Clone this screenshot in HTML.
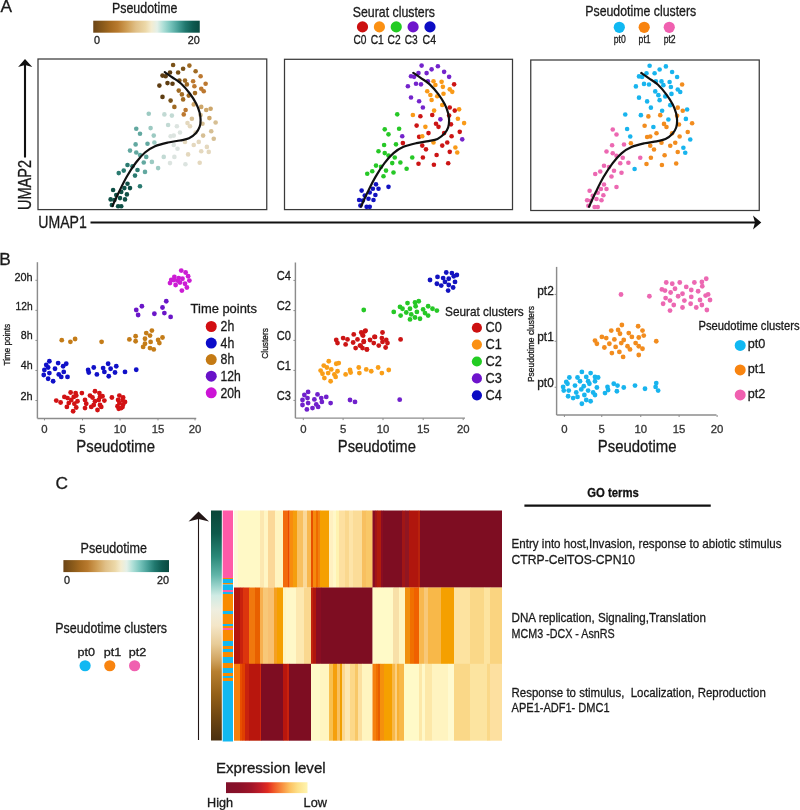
<!DOCTYPE html>
<html><head><meta charset="utf-8"><style>
html,body{margin:0;padding:0;background:#fff;width:800px;height:810px;overflow:hidden}
svg{display:block;filter:blur(0.3px)}
text{font-family:"Liberation Sans",sans-serif}
</style></head><body>
<svg width="800" height="810" viewBox="0 0 800 810">
<rect width="800" height="810" fill="#fff"/>
<defs>
<linearGradient id="gpt1" x1="0" x2="1" y1="0" y2="0"><stop offset="0" stop-color="#6b4416"/><stop offset="0.09" stop-color="#8a5a1a"/><stop offset="0.16" stop-color="#a56a20"/><stop offset="0.23" stop-color="#b87a2e"/><stop offset="0.32" stop-color="#d0a058"/><stop offset="0.4" stop-color="#e0c088"/><stop offset="0.49" stop-color="#ecd8a8"/><stop offset="0.545" stop-color="#f4ecd0"/><stop offset="0.6" stop-color="#e4f0e8"/><stop offset="0.655" stop-color="#b0e0d8"/><stop offset="0.725" stop-color="#78c4bc"/><stop offset="0.795" stop-color="#48a098"/><stop offset="0.865" stop-color="#20786e"/><stop offset="0.935" stop-color="#0e5a50"/><stop offset="1" stop-color="#0a4a40"/></linearGradient>
<linearGradient id="gpt2" x1="0" x2="1" y1="0" y2="0"><stop offset="0" stop-color="#6b4416"/><stop offset="0.09" stop-color="#8a5a1a"/><stop offset="0.16" stop-color="#a56a20"/><stop offset="0.23" stop-color="#b87a2e"/><stop offset="0.32" stop-color="#d0a058"/><stop offset="0.4" stop-color="#e0c088"/><stop offset="0.49" stop-color="#ecd8a8"/><stop offset="0.545" stop-color="#f4ecd0"/><stop offset="0.6" stop-color="#e4f0e8"/><stop offset="0.655" stop-color="#b0e0d8"/><stop offset="0.725" stop-color="#78c4bc"/><stop offset="0.795" stop-color="#48a098"/><stop offset="0.865" stop-color="#20786e"/><stop offset="0.935" stop-color="#0e5a50"/><stop offset="1" stop-color="#0a4a40"/></linearGradient>
<linearGradient id="gexp" x1="0" x2="1" y1="0" y2="0"><stop offset="0" stop-color="#80102a"/><stop offset="0.16" stop-color="#8a1028"/><stop offset="0.31" stop-color="#a01428"/><stop offset="0.42" stop-color="#c01c28"/><stop offset="0.51" stop-color="#e02a20"/><stop offset="0.59" stop-color="#f05a28"/><stop offset="0.69" stop-color="#f89040"/><stop offset="0.78" stop-color="#fcc060"/><stop offset="0.88" stop-color="#fde088"/><stop offset="1" stop-color="#fff4b0"/></linearGradient>
<linearGradient id="gpc" x1="0" x2="0" y1="0" y2="1"><stop offset="0" stop-color="#0a4638"/><stop offset="0.1" stop-color="#0e5a4c"/><stop offset="0.2" stop-color="#2a8878"/><stop offset="0.28" stop-color="#60b4a8"/><stop offset="0.33" stop-color="#9cd4cc"/><stop offset="0.37" stop-color="#d0ebe4"/><stop offset="0.43" stop-color="#eeeee0"/><stop offset="0.5" stop-color="#f4e6c8"/><stop offset="0.58" stop-color="#e8cc98"/><stop offset="0.65" stop-color="#d0a460"/><stop offset="0.7" stop-color="#b88030"/><stop offset="0.8" stop-color="#946018"/><stop offset="0.9" stop-color="#6e4612"/><stop offset="1" stop-color="#4a3010"/></linearGradient>
<marker id="ah" markerWidth="10" markerHeight="10" refX="5" refY="5" orient="auto"></marker>
<filter id="hblur" x="-2%" y="-2%" width="104%" height="104%"><feGaussianBlur stdDeviation="0.7 0.4"/></filter>
</defs>
<rect x="93.25" y="20.7" width="106.5" height="12" fill="url(#gpt1)"/>
<text x="0.40" y="12.40" font-size="17.28" fill="#1a1a1a" stroke="#1a1a1a" stroke-width="0.3">A</text>
<text x="112.00" y="13.10" font-size="14.80" fill="#1a1a1a" textLength="65.5" lengthAdjust="spacingAndGlyphs" stroke="#1a1a1a" stroke-width="0.3">Pseudotime</text>
<text x="94.00" y="43.60" font-size="10.80" fill="#1a1a1a" stroke="#1a1a1a" stroke-width="0.3">0</text>
<text x="199.75" y="43.60" font-size="10.80" fill="#1a1a1a" text-anchor="end" stroke="#1a1a1a" stroke-width="0.3">20</text>
<text x="352.75" y="16.90" font-size="14.80" fill="#1a1a1a" textLength="82.25" lengthAdjust="spacingAndGlyphs" stroke="#1a1a1a" stroke-width="0.3">Seurat clusters</text>
<circle cx="362.50" cy="26.90" r="5.6" fill="#cc1010"/>
<text x="353.50" y="44.40" font-size="11.88" fill="#1a1a1a" textLength="13" lengthAdjust="spacingAndGlyphs" stroke="#1a1a1a" stroke-width="0.3">C0</text>
<circle cx="379.40" cy="26.90" r="5.6" fill="#fb9012"/>
<text x="370.70" y="44.40" font-size="11.88" fill="#1a1a1a" textLength="13.1" lengthAdjust="spacingAndGlyphs" stroke="#1a1a1a" stroke-width="0.3">C1</text>
<circle cx="396.25" cy="26.90" r="5.6" fill="#22cc22"/>
<text x="387.55" y="44.40" font-size="11.88" fill="#1a1a1a" textLength="13.1" lengthAdjust="spacingAndGlyphs" stroke="#1a1a1a" stroke-width="0.3">C2</text>
<circle cx="413.10" cy="26.90" r="5.6" fill="#6e14cc"/>
<text x="404.70" y="44.40" font-size="11.88" fill="#1a1a1a" textLength="13" lengthAdjust="spacingAndGlyphs" stroke="#1a1a1a" stroke-width="0.3">C3</text>
<circle cx="430.00" cy="26.90" r="5.6" fill="#0c0cc4"/>
<text x="422.60" y="44.40" font-size="11.88" fill="#1a1a1a" textLength="13.5" lengthAdjust="spacingAndGlyphs" stroke="#1a1a1a" stroke-width="0.3">C4</text>
<text x="585.25" y="16.20" font-size="14.04" fill="#1a1a1a" textLength="111" lengthAdjust="spacingAndGlyphs" stroke="#1a1a1a" stroke-width="0.3">Pseudotime clusters</text>
<circle cx="619.30" cy="27.30" r="5.6" fill="#10b8f2"/>
<text x="613.70" y="42.75" font-size="11.12" fill="#1a1a1a" textLength="12" lengthAdjust="spacingAndGlyphs" stroke="#1a1a1a" stroke-width="0.3">pt0</text>
<circle cx="644.20" cy="27.30" r="5.6" fill="#f88410"/>
<text x="638.60" y="42.75" font-size="11.12" fill="#1a1a1a" textLength="12" lengthAdjust="spacingAndGlyphs" stroke="#1a1a1a" stroke-width="0.3">pt1</text>
<circle cx="669.25" cy="27.30" r="5.6" fill="#f060b0"/>
<text x="663.65" y="42.75" font-size="11.12" fill="#1a1a1a" textLength="12" lengthAdjust="spacingAndGlyphs" stroke="#1a1a1a" stroke-width="0.3">pt2</text>
<rect x="38" y="59" width="228.75" height="150.60" fill="none" stroke="#3a3a3a" stroke-width="1.25"/>
<rect x="284.5" y="59.3" width="228.00" height="150.30" fill="none" stroke="#3a3a3a" stroke-width="1.25"/>
<rect x="530.75" y="60" width="228.50" height="150.50" fill="none" stroke="#3a3a3a" stroke-width="1.25"/>
<circle cx="173.12" cy="65.00" r="2.3" fill="#7a5219"/>
<circle cx="183.12" cy="68.75" r="2.3" fill="#7a5219"/>
<circle cx="189.38" cy="65.62" r="2.3" fill="#a06a22"/>
<circle cx="178.12" cy="72.50" r="2.3" fill="#7a5219"/>
<circle cx="170.00" cy="72.50" r="2.3" fill="#5e3d12"/>
<circle cx="162.50" cy="75.62" r="2.3" fill="#5e3d12"/>
<circle cx="165.62" cy="76.25" r="2.3" fill="#5e3d12"/>
<circle cx="195.62" cy="71.25" r="2.3" fill="#a06a22"/>
<circle cx="200.62" cy="76.25" r="2.3" fill="#bc7830"/>
<circle cx="159.38" cy="85.62" r="2.3" fill="#5e3d12"/>
<circle cx="167.50" cy="83.12" r="2.3" fill="#5e3d12"/>
<circle cx="172.50" cy="83.75" r="2.3" fill="#5e3d12"/>
<circle cx="179.38" cy="80.62" r="2.3" fill="#7a5219"/>
<circle cx="185.00" cy="80.62" r="2.3" fill="#a06a22"/>
<circle cx="186.88" cy="84.38" r="2.3" fill="#a06a22"/>
<circle cx="193.12" cy="81.25" r="2.3" fill="#bc7830"/>
<circle cx="194.38" cy="86.25" r="2.3" fill="#bc7830"/>
<circle cx="205.62" cy="83.75" r="2.3" fill="#bc7830"/>
<circle cx="201.25" cy="88.75" r="2.3" fill="#bc7830"/>
<circle cx="203.75" cy="91.25" r="2.3" fill="#bc7830"/>
<circle cx="178.75" cy="90.62" r="2.3" fill="#a06a22"/>
<circle cx="181.88" cy="94.38" r="2.3" fill="#a06a22"/>
<circle cx="188.75" cy="95.62" r="2.3" fill="#a06a22"/>
<circle cx="195.00" cy="93.12" r="2.3" fill="#a06a22"/>
<circle cx="162.50" cy="96.88" r="2.3" fill="#5e3d12"/>
<circle cx="170.62" cy="100.62" r="2.3" fill="#7a5219"/>
<circle cx="183.12" cy="99.38" r="2.3" fill="#a06a22"/>
<circle cx="174.38" cy="106.88" r="2.3" fill="#a06a22"/>
<circle cx="185.62" cy="110.00" r="2.3" fill="#bc7830"/>
<circle cx="183.75" cy="114.38" r="2.3" fill="#bc7830"/>
<circle cx="193.75" cy="104.38" r="2.3" fill="#cda66a"/>
<circle cx="201.25" cy="106.88" r="2.3" fill="#cda66a"/>
<circle cx="206.25" cy="110.00" r="2.3" fill="#cda66a"/>
<circle cx="210.62" cy="108.75" r="2.3" fill="#cda66a"/>
<circle cx="191.88" cy="118.75" r="2.3" fill="#d6bf94"/>
<circle cx="209.38" cy="118.12" r="2.3" fill="#cda66a"/>
<circle cx="215.62" cy="122.50" r="2.3" fill="#d6bf94"/>
<circle cx="187.50" cy="123.12" r="2.3" fill="#e4d8be"/>
<circle cx="190.00" cy="126.25" r="2.3" fill="#e4d8be"/>
<circle cx="202.50" cy="123.75" r="2.3" fill="#d6bf94"/>
<circle cx="211.25" cy="131.25" r="2.3" fill="#d6bf94"/>
<circle cx="203.12" cy="135.62" r="2.3" fill="#d6bf94"/>
<circle cx="213.75" cy="138.75" r="2.3" fill="#d6bf94"/>
<circle cx="198.75" cy="141.88" r="2.3" fill="#e4d8be"/>
<circle cx="193.75" cy="145.00" r="2.3" fill="#e4d8be"/>
<circle cx="206.88" cy="146.88" r="2.3" fill="#e4d8be"/>
<circle cx="201.25" cy="151.25" r="2.3" fill="#e4d8be"/>
<circle cx="208.75" cy="151.88" r="2.3" fill="#e4d8be"/>
<circle cx="188.12" cy="154.38" r="2.3" fill="#e4d8be"/>
<circle cx="173.75" cy="145.00" r="2.3" fill="#dce4e0"/>
<circle cx="177.50" cy="148.75" r="2.3" fill="#dce4e0"/>
<circle cx="170.62" cy="136.25" r="2.3" fill="#dce4e0"/>
<circle cx="173.75" cy="135.62" r="2.3" fill="#dce4e0"/>
<circle cx="168.12" cy="125.00" r="2.3" fill="#c2dad4"/>
<circle cx="176.88" cy="126.25" r="2.3" fill="#dce4e0"/>
<circle cx="180.00" cy="132.50" r="2.3" fill="#dce4e0"/>
<circle cx="164.38" cy="114.38" r="2.3" fill="#c2dad4"/>
<circle cx="171.88" cy="115.62" r="2.3" fill="#c2dad4"/>
<circle cx="148.75" cy="113.75" r="2.3" fill="#9ccac2"/>
<circle cx="150.62" cy="128.12" r="2.3" fill="#9ccac2"/>
<circle cx="153.75" cy="135.62" r="2.3" fill="#9ccac2"/>
<circle cx="147.50" cy="143.75" r="2.3" fill="#62a8a0"/>
<circle cx="154.38" cy="142.50" r="2.3" fill="#9ccac2"/>
<circle cx="140.00" cy="133.75" r="2.3" fill="#62a8a0"/>
<circle cx="146.25" cy="156.88" r="2.3" fill="#62a8a0"/>
<circle cx="163.75" cy="156.88" r="2.3" fill="#c2dad4"/>
<circle cx="174.38" cy="156.88" r="2.3" fill="#dce4e0"/>
<circle cx="200.62" cy="115.00" r="2.3" fill="#d6bf94"/>
<circle cx="185.00" cy="141.88" r="2.3" fill="#e4d8be"/>
<circle cx="195.62" cy="132.50" r="2.3" fill="#e4d8be"/>
<circle cx="199.70" cy="162.70" r="2.3" fill="#e4d8be"/>
<circle cx="185.40" cy="164.20" r="2.3" fill="#dce4e0"/>
<circle cx="136.25" cy="128.75" r="2.3" fill="#62a8a0"/>
<circle cx="135.62" cy="144.38" r="2.3" fill="#62a8a0"/>
<circle cx="130.00" cy="150.62" r="2.3" fill="#62a8a0"/>
<circle cx="136.25" cy="152.50" r="2.3" fill="#62a8a0"/>
<circle cx="140.00" cy="155.00" r="2.3" fill="#62a8a0"/>
<circle cx="151.88" cy="161.88" r="2.3" fill="#9ccac2"/>
<circle cx="143.75" cy="162.50" r="2.3" fill="#62a8a0"/>
<circle cx="158.12" cy="168.12" r="2.3" fill="#9ccac2"/>
<circle cx="170.00" cy="163.12" r="2.3" fill="#dce4e0"/>
<circle cx="127.50" cy="165.00" r="2.3" fill="#2a7a70"/>
<circle cx="132.50" cy="166.25" r="2.3" fill="#2a7a70"/>
<circle cx="123.75" cy="170.62" r="2.3" fill="#2a7a70"/>
<circle cx="118.75" cy="173.12" r="2.3" fill="#2a7a70"/>
<circle cx="137.50" cy="170.00" r="2.3" fill="#2a7a70"/>
<circle cx="145.00" cy="171.88" r="2.3" fill="#62a8a0"/>
<circle cx="135.00" cy="175.62" r="2.3" fill="#2a7a70"/>
<circle cx="140.00" cy="186.25" r="2.3" fill="#2a7a70"/>
<circle cx="127.50" cy="183.75" r="2.3" fill="#0f5046"/>
<circle cx="124.38" cy="188.12" r="2.3" fill="#0f5046"/>
<circle cx="130.00" cy="188.12" r="2.3" fill="#0f5046"/>
<circle cx="113.12" cy="190.00" r="2.3" fill="#0f5046"/>
<circle cx="121.25" cy="191.88" r="2.3" fill="#0f5046"/>
<circle cx="126.88" cy="194.38" r="2.3" fill="#0f5046"/>
<circle cx="116.25" cy="195.00" r="2.3" fill="#0f5046"/>
<circle cx="110.62" cy="199.38" r="2.3" fill="#0f5046"/>
<circle cx="114.38" cy="200.00" r="2.3" fill="#0f5046"/>
<circle cx="120.00" cy="198.12" r="2.3" fill="#0f5046"/>
<circle cx="125.00" cy="199.38" r="2.3" fill="#0f5046"/>
<circle cx="111.88" cy="205.00" r="2.3" fill="#0f5046"/>
<circle cx="118.12" cy="206.25" r="2.3" fill="#0f5046"/>
<circle cx="121.25" cy="206.25" r="2.3" fill="#0f5046"/>
<path d="M164.75,72.20 C166.04,73.08 169.75,75.58 172.50,77.50 C175.25,79.42 178.33,81.04 181.25,83.75 C184.17,86.46 187.50,90.42 190.00,93.75 C192.50,97.08 194.65,100.62 196.25,103.75 C197.85,106.88 198.88,109.79 199.60,112.50 C200.32,115.21 200.58,117.63 200.60,120.00 C200.62,122.37 200.47,124.53 199.70,126.70 C198.93,128.87 197.78,131.07 196.00,133.00 C194.22,134.93 191.67,137.05 189.00,138.30 C186.33,139.55 183.50,139.80 180.00,140.50 C176.50,141.20 172.17,141.54 168.00,142.50 C163.83,143.46 158.83,144.58 155.00,146.25 C151.17,147.92 148.17,149.79 145.00,152.50 C141.83,155.21 139.00,158.54 136.00,162.50 C133.00,166.46 129.78,171.46 127.00,176.25 C124.22,181.04 121.72,186.29 119.30,191.25 C116.88,196.21 113.63,203.54 112.50,206.00" fill="none" stroke="#111" stroke-width="2.2" stroke-linecap="round"/>
<circle cx="421.62" cy="65.60" r="2.3" fill="#7424cc"/>
<circle cx="431.62" cy="69.35" r="2.3" fill="#7424cc"/>
<circle cx="437.88" cy="66.22" r="2.3" fill="#7424cc"/>
<circle cx="426.62" cy="73.10" r="2.3" fill="#7424cc"/>
<circle cx="418.50" cy="73.10" r="2.3" fill="#7424cc"/>
<circle cx="411.00" cy="76.22" r="2.3" fill="#7424cc"/>
<circle cx="414.12" cy="76.85" r="2.3" fill="#7424cc"/>
<circle cx="444.12" cy="71.85" r="2.3" fill="#7424cc"/>
<circle cx="449.12" cy="76.85" r="2.3" fill="#7424cc"/>
<circle cx="407.88" cy="86.22" r="2.3" fill="#7424cc"/>
<circle cx="416.00" cy="83.72" r="2.3" fill="#7424cc"/>
<circle cx="421.00" cy="84.35" r="2.3" fill="#7424cc"/>
<circle cx="427.88" cy="81.22" r="2.3" fill="#7424cc"/>
<circle cx="433.50" cy="81.22" r="2.3" fill="#f99a18"/>
<circle cx="435.38" cy="84.97" r="2.3" fill="#f99a18"/>
<circle cx="441.62" cy="81.85" r="2.3" fill="#f99a18"/>
<circle cx="442.88" cy="86.85" r="2.3" fill="#f99a18"/>
<circle cx="454.12" cy="84.35" r="2.3" fill="#cc1414"/>
<circle cx="449.75" cy="89.35" r="2.3" fill="#f99a18"/>
<circle cx="452.25" cy="91.85" r="2.3" fill="#f99a18"/>
<circle cx="427.25" cy="91.22" r="2.3" fill="#f99a18"/>
<circle cx="430.38" cy="94.97" r="2.3" fill="#f99a18"/>
<circle cx="437.25" cy="96.22" r="2.3" fill="#f99a18"/>
<circle cx="443.50" cy="93.72" r="2.3" fill="#f99a18"/>
<circle cx="411.00" cy="97.47" r="2.3" fill="#7424cc"/>
<circle cx="419.12" cy="101.22" r="2.3" fill="#7424cc"/>
<circle cx="431.62" cy="99.97" r="2.3" fill="#f99a18"/>
<circle cx="422.88" cy="107.47" r="2.3" fill="#7424cc"/>
<circle cx="434.12" cy="110.60" r="2.3" fill="#f99a18"/>
<circle cx="432.25" cy="114.97" r="2.3" fill="#cc1414"/>
<circle cx="442.25" cy="104.97" r="2.3" fill="#f99a18"/>
<circle cx="449.75" cy="107.47" r="2.3" fill="#cc1414"/>
<circle cx="454.75" cy="110.60" r="2.3" fill="#cc1414"/>
<circle cx="459.12" cy="109.35" r="2.3" fill="#f99a18"/>
<circle cx="440.38" cy="119.35" r="2.3" fill="#7424cc"/>
<circle cx="457.88" cy="118.72" r="2.3" fill="#f99a18"/>
<circle cx="464.12" cy="123.10" r="2.3" fill="#f99a18"/>
<circle cx="436.00" cy="123.72" r="2.3" fill="#cc1414"/>
<circle cx="438.50" cy="126.85" r="2.3" fill="#cc1414"/>
<circle cx="451.00" cy="124.35" r="2.3" fill="#cc1414"/>
<circle cx="459.75" cy="131.85" r="2.3" fill="#cc1414"/>
<circle cx="451.62" cy="136.22" r="2.3" fill="#cc1414"/>
<circle cx="462.25" cy="139.35" r="2.3" fill="#7424cc"/>
<circle cx="447.25" cy="142.47" r="2.3" fill="#cc1414"/>
<circle cx="442.25" cy="145.60" r="2.3" fill="#cc1414"/>
<circle cx="455.38" cy="147.47" r="2.3" fill="#f99a18"/>
<circle cx="449.75" cy="151.85" r="2.3" fill="#cc1414"/>
<circle cx="457.25" cy="152.47" r="2.3" fill="#f99a18"/>
<circle cx="436.62" cy="154.97" r="2.3" fill="#cc1414"/>
<circle cx="422.25" cy="145.60" r="2.3" fill="#cc1414"/>
<circle cx="426.00" cy="149.35" r="2.3" fill="#cc1414"/>
<circle cx="419.12" cy="136.85" r="2.3" fill="#cc1414"/>
<circle cx="422.25" cy="136.22" r="2.3" fill="#f99a18"/>
<circle cx="416.62" cy="125.60" r="2.3" fill="#cc1414"/>
<circle cx="425.38" cy="126.85" r="2.3" fill="#f99a18"/>
<circle cx="428.50" cy="133.10" r="2.3" fill="#cc1414"/>
<circle cx="412.88" cy="114.97" r="2.3" fill="#f99a18"/>
<circle cx="420.38" cy="116.22" r="2.3" fill="#cc1414"/>
<circle cx="397.25" cy="114.35" r="2.3" fill="#26c826"/>
<circle cx="399.12" cy="128.72" r="2.3" fill="#26c826"/>
<circle cx="402.25" cy="136.22" r="2.3" fill="#7424cc"/>
<circle cx="396.00" cy="144.35" r="2.3" fill="#26c826"/>
<circle cx="402.88" cy="143.10" r="2.3" fill="#cc1414"/>
<circle cx="388.50" cy="134.35" r="2.3" fill="#26c826"/>
<circle cx="394.75" cy="157.47" r="2.3" fill="#26c826"/>
<circle cx="412.25" cy="157.47" r="2.3" fill="#26c826"/>
<circle cx="422.88" cy="157.47" r="2.3" fill="#cc1414"/>
<circle cx="449.12" cy="115.60" r="2.3" fill="#cc1414"/>
<circle cx="433.50" cy="142.47" r="2.3" fill="#f99a18"/>
<circle cx="444.12" cy="133.10" r="2.3" fill="#cc1414"/>
<circle cx="448.20" cy="163.30" r="2.3" fill="#cc1414"/>
<circle cx="433.90" cy="164.80" r="2.3" fill="#cc1414"/>
<circle cx="384.75" cy="129.35" r="2.3" fill="#26c826"/>
<circle cx="384.12" cy="144.97" r="2.3" fill="#26c826"/>
<circle cx="378.50" cy="151.22" r="2.3" fill="#26c826"/>
<circle cx="384.75" cy="153.10" r="2.3" fill="#26c826"/>
<circle cx="388.50" cy="155.60" r="2.3" fill="#26c826"/>
<circle cx="400.38" cy="162.47" r="2.3" fill="#26c826"/>
<circle cx="392.25" cy="163.10" r="2.3" fill="#26c826"/>
<circle cx="406.62" cy="168.72" r="2.3" fill="#26c826"/>
<circle cx="418.50" cy="163.72" r="2.3" fill="#cc1414"/>
<circle cx="376.00" cy="165.60" r="2.3" fill="#26c826"/>
<circle cx="381.00" cy="166.85" r="2.3" fill="#26c826"/>
<circle cx="372.25" cy="171.22" r="2.3" fill="#26c826"/>
<circle cx="367.25" cy="173.72" r="2.3" fill="#26c826"/>
<circle cx="386.00" cy="170.60" r="2.3" fill="#26c826"/>
<circle cx="393.50" cy="172.47" r="2.3" fill="#26c826"/>
<circle cx="383.50" cy="176.22" r="2.3" fill="#26c826"/>
<circle cx="388.50" cy="186.85" r="2.3" fill="#1212c0"/>
<circle cx="376.00" cy="184.35" r="2.3" fill="#1212c0"/>
<circle cx="372.88" cy="188.72" r="2.3" fill="#1212c0"/>
<circle cx="378.50" cy="188.72" r="2.3" fill="#1212c0"/>
<circle cx="361.62" cy="190.60" r="2.3" fill="#1212c0"/>
<circle cx="369.75" cy="192.47" r="2.3" fill="#1212c0"/>
<circle cx="375.38" cy="194.97" r="2.3" fill="#1212c0"/>
<circle cx="364.75" cy="195.60" r="2.3" fill="#1212c0"/>
<circle cx="359.12" cy="199.97" r="2.3" fill="#1212c0"/>
<circle cx="362.88" cy="200.60" r="2.3" fill="#1212c0"/>
<circle cx="368.50" cy="198.72" r="2.3" fill="#1212c0"/>
<circle cx="373.50" cy="199.97" r="2.3" fill="#1212c0"/>
<circle cx="360.38" cy="205.60" r="2.3" fill="#1212c0"/>
<circle cx="366.62" cy="206.85" r="2.3" fill="#1212c0"/>
<circle cx="369.75" cy="206.85" r="2.3" fill="#1212c0"/>
<path d="M413.25,72.80 C414.54,73.68 418.25,76.17 421.00,78.10 C423.75,80.02 426.83,81.64 429.75,84.35 C432.67,87.06 436.00,91.02 438.50,94.35 C441.00,97.68 443.15,101.22 444.75,104.35 C446.35,107.47 447.38,110.39 448.10,113.10 C448.83,115.81 449.08,118.23 449.10,120.60 C449.12,122.97 448.97,125.13 448.20,127.30 C447.43,129.47 446.28,131.67 444.50,133.60 C442.72,135.53 440.17,137.65 437.50,138.90 C434.83,140.15 432.00,140.40 428.50,141.10 C425.00,141.80 420.67,142.14 416.50,143.10 C412.33,144.06 407.33,145.18 403.50,146.85 C399.67,148.52 396.67,150.39 393.50,153.10 C390.33,155.81 387.50,159.14 384.50,163.10 C381.50,167.06 378.28,172.06 375.50,176.85 C372.72,181.64 370.22,186.89 367.80,191.85 C365.38,196.81 362.13,204.14 361.00,206.60" fill="none" stroke="#111" stroke-width="2.2" stroke-linecap="round"/>
<circle cx="649.62" cy="65.80" r="2.3" fill="#18b4ee"/>
<circle cx="659.62" cy="69.55" r="2.3" fill="#18b4ee"/>
<circle cx="665.88" cy="66.42" r="2.3" fill="#18b4ee"/>
<circle cx="654.62" cy="73.30" r="2.3" fill="#18b4ee"/>
<circle cx="646.50" cy="73.30" r="2.3" fill="#18b4ee"/>
<circle cx="639.00" cy="76.42" r="2.3" fill="#18b4ee"/>
<circle cx="642.12" cy="77.05" r="2.3" fill="#18b4ee"/>
<circle cx="672.12" cy="72.05" r="2.3" fill="#18b4ee"/>
<circle cx="677.12" cy="77.05" r="2.3" fill="#18b4ee"/>
<circle cx="635.88" cy="86.42" r="2.3" fill="#18b4ee"/>
<circle cx="644.00" cy="83.92" r="2.3" fill="#18b4ee"/>
<circle cx="649.00" cy="84.55" r="2.3" fill="#18b4ee"/>
<circle cx="655.88" cy="81.42" r="2.3" fill="#18b4ee"/>
<circle cx="661.50" cy="81.42" r="2.3" fill="#18b4ee"/>
<circle cx="663.38" cy="85.17" r="2.3" fill="#18b4ee"/>
<circle cx="669.62" cy="82.05" r="2.3" fill="#18b4ee"/>
<circle cx="670.88" cy="87.05" r="2.3" fill="#18b4ee"/>
<circle cx="682.12" cy="84.55" r="2.3" fill="#f28c1e"/>
<circle cx="677.75" cy="89.55" r="2.3" fill="#18b4ee"/>
<circle cx="680.25" cy="92.05" r="2.3" fill="#18b4ee"/>
<circle cx="655.25" cy="91.42" r="2.3" fill="#18b4ee"/>
<circle cx="658.38" cy="95.17" r="2.3" fill="#18b4ee"/>
<circle cx="665.25" cy="96.42" r="2.3" fill="#18b4ee"/>
<circle cx="671.50" cy="93.92" r="2.3" fill="#18b4ee"/>
<circle cx="639.00" cy="97.67" r="2.3" fill="#18b4ee"/>
<circle cx="647.12" cy="101.42" r="2.3" fill="#18b4ee"/>
<circle cx="659.62" cy="100.17" r="2.3" fill="#18b4ee"/>
<circle cx="650.88" cy="107.67" r="2.3" fill="#18b4ee"/>
<circle cx="662.12" cy="110.80" r="2.3" fill="#18b4ee"/>
<circle cx="660.25" cy="115.17" r="2.3" fill="#f28c1e"/>
<circle cx="670.25" cy="105.17" r="2.3" fill="#18b4ee"/>
<circle cx="677.75" cy="107.67" r="2.3" fill="#f28c1e"/>
<circle cx="682.75" cy="110.80" r="2.3" fill="#f28c1e"/>
<circle cx="687.12" cy="109.55" r="2.3" fill="#18b4ee"/>
<circle cx="668.38" cy="119.55" r="2.3" fill="#18b4ee"/>
<circle cx="685.88" cy="118.92" r="2.3" fill="#18b4ee"/>
<circle cx="692.12" cy="123.30" r="2.3" fill="#f28c1e"/>
<circle cx="664.00" cy="123.92" r="2.3" fill="#f28c1e"/>
<circle cx="666.50" cy="127.05" r="2.3" fill="#f28c1e"/>
<circle cx="679.00" cy="124.55" r="2.3" fill="#f28c1e"/>
<circle cx="687.75" cy="132.05" r="2.3" fill="#f28c1e"/>
<circle cx="679.62" cy="136.43" r="2.3" fill="#f28c1e"/>
<circle cx="690.25" cy="139.55" r="2.3" fill="#18b4ee"/>
<circle cx="675.25" cy="142.68" r="2.3" fill="#f28c1e"/>
<circle cx="670.25" cy="145.80" r="2.3" fill="#f28c1e"/>
<circle cx="683.38" cy="147.68" r="2.3" fill="#18b4ee"/>
<circle cx="677.75" cy="152.05" r="2.3" fill="#f28c1e"/>
<circle cx="685.25" cy="152.68" r="2.3" fill="#18b4ee"/>
<circle cx="664.62" cy="155.18" r="2.3" fill="#f28c1e"/>
<circle cx="650.25" cy="145.80" r="2.3" fill="#f28c1e"/>
<circle cx="654.00" cy="149.55" r="2.3" fill="#f28c1e"/>
<circle cx="647.12" cy="137.05" r="2.3" fill="#f28c1e"/>
<circle cx="650.25" cy="136.43" r="2.3" fill="#f28c1e"/>
<circle cx="644.62" cy="125.80" r="2.3" fill="#f28c1e"/>
<circle cx="653.38" cy="127.05" r="2.3" fill="#18b4ee"/>
<circle cx="656.50" cy="133.30" r="2.3" fill="#f28c1e"/>
<circle cx="640.88" cy="115.17" r="2.3" fill="#18b4ee"/>
<circle cx="648.38" cy="116.42" r="2.3" fill="#f28c1e"/>
<circle cx="625.25" cy="114.55" r="2.3" fill="#18b4ee"/>
<circle cx="627.12" cy="128.93" r="2.3" fill="#18b4ee"/>
<circle cx="630.25" cy="136.43" r="2.3" fill="#18b4ee"/>
<circle cx="624.00" cy="144.55" r="2.3" fill="#ec68b2"/>
<circle cx="630.88" cy="143.30" r="2.3" fill="#f28c1e"/>
<circle cx="616.50" cy="134.55" r="2.3" fill="#ec68b2"/>
<circle cx="622.75" cy="157.68" r="2.3" fill="#ec68b2"/>
<circle cx="640.25" cy="157.68" r="2.3" fill="#ec68b2"/>
<circle cx="650.88" cy="157.68" r="2.3" fill="#f28c1e"/>
<circle cx="677.12" cy="115.80" r="2.3" fill="#f28c1e"/>
<circle cx="661.50" cy="142.68" r="2.3" fill="#f28c1e"/>
<circle cx="672.12" cy="133.30" r="2.3" fill="#f28c1e"/>
<circle cx="676.20" cy="163.50" r="2.3" fill="#f28c1e"/>
<circle cx="661.90" cy="165.00" r="2.3" fill="#f28c1e"/>
<circle cx="612.75" cy="129.55" r="2.3" fill="#ec68b2"/>
<circle cx="612.12" cy="145.18" r="2.3" fill="#ec68b2"/>
<circle cx="606.50" cy="151.43" r="2.3" fill="#ec68b2"/>
<circle cx="612.75" cy="153.30" r="2.3" fill="#ec68b2"/>
<circle cx="616.50" cy="155.80" r="2.3" fill="#ec68b2"/>
<circle cx="628.38" cy="162.68" r="2.3" fill="#ec68b2"/>
<circle cx="620.25" cy="163.30" r="2.3" fill="#ec68b2"/>
<circle cx="634.62" cy="168.93" r="2.3" fill="#18b4ee"/>
<circle cx="646.50" cy="163.93" r="2.3" fill="#f28c1e"/>
<circle cx="604.00" cy="165.80" r="2.3" fill="#ec68b2"/>
<circle cx="609.00" cy="167.05" r="2.3" fill="#ec68b2"/>
<circle cx="600.25" cy="171.43" r="2.3" fill="#ec68b2"/>
<circle cx="595.25" cy="173.93" r="2.3" fill="#ec68b2"/>
<circle cx="614.00" cy="170.80" r="2.3" fill="#ec68b2"/>
<circle cx="621.50" cy="172.68" r="2.3" fill="#ec68b2"/>
<circle cx="611.50" cy="176.43" r="2.3" fill="#ec68b2"/>
<circle cx="616.50" cy="187.05" r="2.3" fill="#ec68b2"/>
<circle cx="604.00" cy="184.55" r="2.3" fill="#ec68b2"/>
<circle cx="600.88" cy="188.93" r="2.3" fill="#ec68b2"/>
<circle cx="606.50" cy="188.93" r="2.3" fill="#ec68b2"/>
<circle cx="589.62" cy="190.80" r="2.3" fill="#ec68b2"/>
<circle cx="597.75" cy="192.68" r="2.3" fill="#ec68b2"/>
<circle cx="603.38" cy="195.18" r="2.3" fill="#ec68b2"/>
<circle cx="592.75" cy="195.80" r="2.3" fill="#ec68b2"/>
<circle cx="587.12" cy="200.18" r="2.3" fill="#ec68b2"/>
<circle cx="590.88" cy="200.80" r="2.3" fill="#ec68b2"/>
<circle cx="596.50" cy="198.93" r="2.3" fill="#ec68b2"/>
<circle cx="601.50" cy="200.18" r="2.3" fill="#ec68b2"/>
<circle cx="588.38" cy="205.80" r="2.3" fill="#ec68b2"/>
<circle cx="594.62" cy="207.05" r="2.3" fill="#ec68b2"/>
<circle cx="597.75" cy="207.05" r="2.3" fill="#ec68b2"/>
<path d="M641.25,73.00 C642.54,73.88 646.25,76.38 649.00,78.30 C651.75,80.22 654.83,81.84 657.75,84.55 C660.67,87.26 664.00,91.22 666.50,94.55 C669.00,97.88 671.15,101.42 672.75,104.55 C674.35,107.67 675.38,110.59 676.10,113.30 C676.83,116.01 677.08,118.43 677.10,120.80 C677.12,123.17 676.97,125.33 676.20,127.50 C675.43,129.67 674.28,131.87 672.50,133.80 C670.72,135.73 668.17,137.85 665.50,139.10 C662.83,140.35 660.00,140.60 656.50,141.30 C653.00,142.00 648.67,142.34 644.50,143.30 C640.33,144.26 635.33,145.38 631.50,147.05 C627.67,148.72 624.67,150.59 621.50,153.30 C618.33,156.01 615.50,159.34 612.50,163.30 C609.50,167.26 606.28,172.26 603.50,177.05 C600.72,181.84 598.22,187.09 595.80,192.05 C593.38,197.01 590.13,204.34 589.00,206.80" fill="none" stroke="#111" stroke-width="2.2" stroke-linecap="round"/>
<line x1="25" y1="65" x2="25" y2="157.5" stroke="#111" stroke-width="2.1"/>
<path d="M25,59 L32.3,66.9 L25,65 L18.1,66.9 Z" fill="#111"/>
<line x1="90.5" y1="222.5" x2="755" y2="222.5" stroke="#111" stroke-width="2.2"/>
<path d="M761.3,222.5 L753,215.5 L755,222.5 L753,229.5 Z" fill="#111"/>
<text x="31.30" y="210.00" font-size="18.04" fill="#1a1a1a" textLength="50" lengthAdjust="spacingAndGlyphs" stroke="#1a1a1a" stroke-width="0.3" transform="rotate(-90 31.3 210)">UMAP2</text>
<text x="38.20" y="228.00" font-size="17.06" fill="#1a1a1a" textLength="48.6" lengthAdjust="spacingAndGlyphs" stroke="#1a1a1a" stroke-width="0.3">UMAP1</text>
<text x="-0.80" y="264.60" font-size="17.28" fill="#1a1a1a" stroke="#1a1a1a" stroke-width="0.3">B</text>
<line x1="37.4" y1="262.2" x2="37.4" y2="418.4" stroke="#8c8c8c" stroke-width="1.45"/>
<line x1="37.4" y1="418.4" x2="196.25" y2="418.4" stroke="#8c8c8c" stroke-width="1.45"/>
<line x1="35.4" y1="280.3" x2="37.4" y2="280.3" stroke="#8c8c8c" stroke-width="1"/>
<line x1="35.4" y1="310.35" x2="37.4" y2="310.35" stroke="#8c8c8c" stroke-width="1"/>
<line x1="35.4" y1="340.4" x2="37.4" y2="340.4" stroke="#8c8c8c" stroke-width="1"/>
<line x1="35.4" y1="370.45" x2="37.4" y2="370.45" stroke="#8c8c8c" stroke-width="1"/>
<line x1="35.4" y1="400.5" x2="37.4" y2="400.5" stroke="#8c8c8c" stroke-width="1"/>
<line x1="44.5" y1="418.4" x2="44.5" y2="420.4" stroke="#8c8c8c" stroke-width="1"/>
<line x1="82.5" y1="418.4" x2="82.5" y2="420.4" stroke="#8c8c8c" stroke-width="1"/>
<line x1="120" y1="418.4" x2="120" y2="420.4" stroke="#8c8c8c" stroke-width="1"/>
<line x1="158" y1="418.4" x2="158" y2="420.4" stroke="#8c8c8c" stroke-width="1"/>
<line x1="195" y1="418.4" x2="195" y2="420.4" stroke="#8c8c8c" stroke-width="1"/>
<text x="32.60" y="281.00" font-size="11.66" fill="#1a1a1a" text-anchor="end" textLength="18.2" lengthAdjust="spacingAndGlyphs" stroke="#1a1a1a" stroke-width="0.3">20h</text>
<text x="32.60" y="309.60" font-size="11.66" fill="#1a1a1a" text-anchor="end" textLength="17.1" lengthAdjust="spacingAndGlyphs" stroke="#1a1a1a" stroke-width="0.3">12h</text>
<text x="32.60" y="338.80" font-size="11.66" fill="#1a1a1a" text-anchor="end" textLength="11.9" lengthAdjust="spacingAndGlyphs" stroke="#1a1a1a" stroke-width="0.3">8h</text>
<text x="32.60" y="368.80" font-size="11.66" fill="#1a1a1a" text-anchor="end" textLength="11.9" lengthAdjust="spacingAndGlyphs" stroke="#1a1a1a" stroke-width="0.3">4h</text>
<text x="32.60" y="400.40" font-size="11.66" fill="#1a1a1a" text-anchor="end" textLength="12.2" lengthAdjust="spacingAndGlyphs" stroke="#1a1a1a" stroke-width="0.3">2h</text>
<text x="44.50" y="433.10" font-size="11.34" fill="#333" text-anchor="middle" stroke="#333" stroke-width="0.3">0</text>
<text x="82.50" y="433.10" font-size="11.34" fill="#333" text-anchor="middle" stroke="#333" stroke-width="0.3">5</text>
<text x="120.00" y="433.10" font-size="11.34" fill="#333" text-anchor="middle" stroke="#333" stroke-width="0.3">10</text>
<text x="158.00" y="433.10" font-size="11.34" fill="#333" text-anchor="middle" stroke="#333" stroke-width="0.3">15</text>
<text x="195.00" y="433.10" font-size="11.34" fill="#333" text-anchor="middle" stroke="#333" stroke-width="0.3">20</text>
<text x="10.50" y="365.40" font-size="8.64" fill="#1a1a1a" textLength="41.4" lengthAdjust="spacingAndGlyphs" stroke="#1a1a1a" stroke-width="0.3" transform="rotate(-90 10.5 365.4)">Time points</text>
<text x="76.25" y="451.90" font-size="16.20" fill="#1a1a1a" textLength="78.75" lengthAdjust="spacingAndGlyphs" stroke="#1a1a1a" stroke-width="0.3">Pseudotime</text>
<circle cx="70.62" cy="392.50" r="2.4" fill="#d21214"/>
<circle cx="75.62" cy="393.12" r="2.4" fill="#d21214"/>
<circle cx="81.88" cy="393.12" r="2.4" fill="#d21214"/>
<circle cx="95.00" cy="391.25" r="2.4" fill="#d21214"/>
<circle cx="99.38" cy="393.12" r="2.4" fill="#d21214"/>
<circle cx="64.38" cy="396.88" r="2.4" fill="#d21214"/>
<circle cx="67.50" cy="398.12" r="2.4" fill="#d21214"/>
<circle cx="73.75" cy="396.88" r="2.4" fill="#d21214"/>
<circle cx="76.25" cy="395.62" r="2.4" fill="#d21214"/>
<circle cx="90.00" cy="395.62" r="2.4" fill="#d21214"/>
<circle cx="92.50" cy="397.50" r="2.4" fill="#d21214"/>
<circle cx="100.00" cy="396.88" r="2.4" fill="#d21214"/>
<circle cx="102.50" cy="396.25" r="2.4" fill="#d21214"/>
<circle cx="111.88" cy="397.50" r="2.4" fill="#d21214"/>
<circle cx="56.25" cy="400.62" r="2.4" fill="#d21214"/>
<circle cx="60.62" cy="402.50" r="2.4" fill="#d21214"/>
<circle cx="71.25" cy="400.00" r="2.4" fill="#d21214"/>
<circle cx="77.50" cy="401.25" r="2.4" fill="#d21214"/>
<circle cx="85.00" cy="400.00" r="2.4" fill="#d21214"/>
<circle cx="95.00" cy="401.25" r="2.4" fill="#d21214"/>
<circle cx="98.75" cy="400.00" r="2.4" fill="#d21214"/>
<circle cx="104.38" cy="400.62" r="2.4" fill="#d21214"/>
<circle cx="68.75" cy="403.12" r="2.4" fill="#d21214"/>
<circle cx="74.38" cy="403.75" r="2.4" fill="#d21214"/>
<circle cx="86.25" cy="403.75" r="2.4" fill="#d21214"/>
<circle cx="93.75" cy="405.00" r="2.4" fill="#d21214"/>
<circle cx="100.00" cy="405.00" r="2.4" fill="#d21214"/>
<circle cx="66.88" cy="406.88" r="2.4" fill="#d21214"/>
<circle cx="76.25" cy="407.50" r="2.4" fill="#d21214"/>
<circle cx="85.00" cy="408.12" r="2.4" fill="#d21214"/>
<circle cx="91.25" cy="406.88" r="2.4" fill="#d21214"/>
<circle cx="101.25" cy="406.88" r="2.4" fill="#d21214"/>
<circle cx="73.12" cy="411.25" r="2.4" fill="#d21214"/>
<circle cx="97.50" cy="410.00" r="2.4" fill="#d21214"/>
<circle cx="119.38" cy="395.62" r="2.4" fill="#d21214"/>
<circle cx="123.12" cy="397.50" r="2.4" fill="#d21214"/>
<circle cx="118.12" cy="400.00" r="2.4" fill="#d21214"/>
<circle cx="122.50" cy="400.00" r="2.4" fill="#d21214"/>
<circle cx="125.00" cy="401.88" r="2.4" fill="#d21214"/>
<circle cx="119.38" cy="403.12" r="2.4" fill="#d21214"/>
<circle cx="123.12" cy="404.38" r="2.4" fill="#d21214"/>
<circle cx="117.50" cy="406.25" r="2.4" fill="#d21214"/>
<circle cx="122.50" cy="406.88" r="2.4" fill="#d21214"/>
<circle cx="118.75" cy="408.75" r="2.4" fill="#d21214"/>
<circle cx="121.25" cy="408.12" r="2.4" fill="#d21214"/>
<circle cx="49.38" cy="361.25" r="2.4" fill="#1010c8"/>
<circle cx="46.25" cy="365.00" r="2.4" fill="#1010c8"/>
<circle cx="48.12" cy="367.50" r="2.4" fill="#1010c8"/>
<circle cx="44.38" cy="370.00" r="2.4" fill="#1010c8"/>
<circle cx="49.38" cy="373.12" r="2.4" fill="#1010c8"/>
<circle cx="43.75" cy="375.00" r="2.4" fill="#1010c8"/>
<circle cx="48.12" cy="378.75" r="2.4" fill="#1010c8"/>
<circle cx="53.12" cy="381.25" r="2.4" fill="#1010c8"/>
<circle cx="58.12" cy="363.12" r="2.4" fill="#1010c8"/>
<circle cx="55.00" cy="368.75" r="2.4" fill="#1010c8"/>
<circle cx="63.12" cy="366.25" r="2.4" fill="#1010c8"/>
<circle cx="66.25" cy="363.75" r="2.4" fill="#1010c8"/>
<circle cx="63.75" cy="371.88" r="2.4" fill="#1010c8"/>
<circle cx="58.75" cy="374.38" r="2.4" fill="#1010c8"/>
<circle cx="61.25" cy="376.88" r="2.4" fill="#1010c8"/>
<circle cx="67.50" cy="376.88" r="2.4" fill="#1010c8"/>
<circle cx="88.12" cy="370.00" r="2.4" fill="#1010c8"/>
<circle cx="88.75" cy="372.50" r="2.4" fill="#1010c8"/>
<circle cx="93.75" cy="367.50" r="2.4" fill="#1010c8"/>
<circle cx="96.88" cy="374.38" r="2.4" fill="#1010c8"/>
<circle cx="103.12" cy="368.12" r="2.4" fill="#1010c8"/>
<circle cx="104.38" cy="371.88" r="2.4" fill="#1010c8"/>
<circle cx="108.12" cy="363.75" r="2.4" fill="#1010c8"/>
<circle cx="110.62" cy="368.75" r="2.4" fill="#1010c8"/>
<circle cx="116.25" cy="366.25" r="2.4" fill="#1010c8"/>
<circle cx="115.00" cy="372.50" r="2.4" fill="#1010c8"/>
<circle cx="108.75" cy="376.25" r="2.4" fill="#1010c8"/>
<circle cx="125.00" cy="371.88" r="2.4" fill="#1010c8"/>
<circle cx="136.25" cy="369.75" r="2.4" fill="#1010c8"/>
<circle cx="151.88" cy="330.62" r="2.4" fill="#c47c18"/>
<circle cx="146.25" cy="333.12" r="2.4" fill="#c47c18"/>
<circle cx="150.00" cy="335.62" r="2.4" fill="#c47c18"/>
<circle cx="135.62" cy="336.25" r="2.4" fill="#c47c18"/>
<circle cx="129.38" cy="339.38" r="2.4" fill="#c47c18"/>
<circle cx="135.62" cy="341.25" r="2.4" fill="#c47c18"/>
<circle cx="145.00" cy="338.75" r="2.4" fill="#c47c18"/>
<circle cx="150.62" cy="341.88" r="2.4" fill="#c47c18"/>
<circle cx="158.12" cy="340.00" r="2.4" fill="#c47c18"/>
<circle cx="162.50" cy="337.50" r="2.4" fill="#c47c18"/>
<circle cx="159.38" cy="343.12" r="2.4" fill="#c47c18"/>
<circle cx="145.00" cy="343.75" r="2.4" fill="#c47c18"/>
<circle cx="143.12" cy="346.88" r="2.4" fill="#c47c18"/>
<circle cx="150.00" cy="348.12" r="2.4" fill="#c47c18"/>
<circle cx="153.75" cy="349.38" r="2.4" fill="#c47c18"/>
<circle cx="61.75" cy="340.20" r="2.4" fill="#c47c18"/>
<circle cx="70.40" cy="341.80" r="2.4" fill="#c47c18"/>
<circle cx="75.10" cy="339.00" r="2.4" fill="#c47c18"/>
<circle cx="101.60" cy="341.80" r="2.4" fill="#c47c18"/>
<circle cx="141.88" cy="306.25" r="2.4" fill="#6a16c8"/>
<circle cx="136.25" cy="310.00" r="2.4" fill="#6a16c8"/>
<circle cx="138.12" cy="315.00" r="2.4" fill="#6a16c8"/>
<circle cx="154.38" cy="313.75" r="2.4" fill="#6a16c8"/>
<circle cx="162.50" cy="307.50" r="2.4" fill="#6a16c8"/>
<circle cx="166.25" cy="301.25" r="2.4" fill="#6a16c8"/>
<circle cx="164.38" cy="313.12" r="2.4" fill="#6a16c8"/>
<circle cx="170.62" cy="316.88" r="2.4" fill="#6a16c8"/>
<circle cx="181.25" cy="270.62" r="2.4" fill="#cc1cd4"/>
<circle cx="185.62" cy="272.50" r="2.4" fill="#cc1cd4"/>
<circle cx="188.12" cy="276.25" r="2.4" fill="#cc1cd4"/>
<circle cx="174.38" cy="276.88" r="2.4" fill="#cc1cd4"/>
<circle cx="178.75" cy="278.12" r="2.4" fill="#cc1cd4"/>
<circle cx="182.50" cy="278.75" r="2.4" fill="#cc1cd4"/>
<circle cx="171.25" cy="280.00" r="2.4" fill="#cc1cd4"/>
<circle cx="177.50" cy="280.62" r="2.4" fill="#cc1cd4"/>
<circle cx="189.38" cy="280.62" r="2.4" fill="#cc1cd4"/>
<circle cx="170.00" cy="283.12" r="2.4" fill="#cc1cd4"/>
<circle cx="175.62" cy="285.00" r="2.4" fill="#cc1cd4"/>
<circle cx="180.00" cy="282.50" r="2.4" fill="#cc1cd4"/>
<circle cx="185.00" cy="283.75" r="2.4" fill="#cc1cd4"/>
<circle cx="186.88" cy="287.50" r="2.4" fill="#cc1cd4"/>
<circle cx="181.88" cy="290.62" r="2.4" fill="#cc1cd4"/>
<circle cx="173.75" cy="280.00" r="2.4" fill="#cc1cd4"/>
<text x="190.60" y="313.10" font-size="13.50" fill="#1a1a1a" textLength="66.3" lengthAdjust="spacingAndGlyphs" stroke="#1a1a1a" stroke-width="0.3">Time points</text>
<circle cx="211.25" cy="326.50" r="5.5" fill="#d20e12"/>
<text x="220.60" y="331.20" font-size="14.04" fill="#1a1a1a" textLength="13.7" lengthAdjust="spacingAndGlyphs" stroke="#1a1a1a" stroke-width="0.3">2h</text>
<circle cx="211.25" cy="343.10" r="5.5" fill="#0c0cca"/>
<text x="220.60" y="347.80" font-size="14.04" fill="#1a1a1a" textLength="13.7" lengthAdjust="spacingAndGlyphs" stroke="#1a1a1a" stroke-width="0.3">4h</text>
<circle cx="211.25" cy="359.60" r="5.5" fill="#c47a14"/>
<text x="220.60" y="364.30" font-size="14.04" fill="#1a1a1a" textLength="13.7" lengthAdjust="spacingAndGlyphs" stroke="#1a1a1a" stroke-width="0.3">8h</text>
<circle cx="211.25" cy="376.20" r="5.5" fill="#6812c8"/>
<text x="220.60" y="380.90" font-size="14.04" fill="#1a1a1a" textLength="20.3" lengthAdjust="spacingAndGlyphs" stroke="#1a1a1a" stroke-width="0.3">12h</text>
<circle cx="211.25" cy="392.80" r="5.5" fill="#cc14d6"/>
<text x="220.60" y="397.50" font-size="14.04" fill="#1a1a1a" textLength="20.3" lengthAdjust="spacingAndGlyphs" stroke="#1a1a1a" stroke-width="0.3">20h</text>
<line x1="295.4" y1="262.5" x2="295.4" y2="418.1" stroke="#8c8c8c" stroke-width="1.45"/>
<line x1="295.4" y1="418.1" x2="465" y2="418.1" stroke="#8c8c8c" stroke-width="1.45"/>
<line x1="293.4" y1="280.4" x2="295.4" y2="280.4" stroke="#8c8c8c" stroke-width="1"/>
<line x1="293.4" y1="310.6" x2="295.4" y2="310.6" stroke="#8c8c8c" stroke-width="1"/>
<line x1="293.4" y1="340.4" x2="295.4" y2="340.4" stroke="#8c8c8c" stroke-width="1"/>
<line x1="293.4" y1="370.4" x2="295.4" y2="370.4" stroke="#8c8c8c" stroke-width="1"/>
<line x1="293.4" y1="400.4" x2="295.4" y2="400.4" stroke="#8c8c8c" stroke-width="1"/>
<line x1="303.3" y1="418.1" x2="303.3" y2="420.1" stroke="#8c8c8c" stroke-width="1"/>
<line x1="343.1" y1="418.1" x2="343.1" y2="420.1" stroke="#8c8c8c" stroke-width="1"/>
<line x1="383" y1="418.1" x2="383" y2="420.1" stroke="#8c8c8c" stroke-width="1"/>
<line x1="423.2" y1="418.1" x2="423.2" y2="420.1" stroke="#8c8c8c" stroke-width="1"/>
<line x1="463.2" y1="418.1" x2="463.2" y2="420.1" stroke="#8c8c8c" stroke-width="1"/>
<text x="291.00" y="279.90" font-size="11.88" fill="#1a1a1a" text-anchor="end" textLength="14.2" lengthAdjust="spacingAndGlyphs" stroke="#1a1a1a" stroke-width="0.3">C4</text>
<text x="291.00" y="310.10" font-size="11.88" fill="#1a1a1a" text-anchor="end" textLength="14.2" lengthAdjust="spacingAndGlyphs" stroke="#1a1a1a" stroke-width="0.3">C2</text>
<text x="291.00" y="339.80" font-size="11.88" fill="#1a1a1a" text-anchor="end" textLength="14.2" lengthAdjust="spacingAndGlyphs" stroke="#1a1a1a" stroke-width="0.3">C0</text>
<text x="291.00" y="370.00" font-size="11.88" fill="#1a1a1a" text-anchor="end" textLength="14.2" lengthAdjust="spacingAndGlyphs" stroke="#1a1a1a" stroke-width="0.3">C1</text>
<text x="291.00" y="400.20" font-size="11.88" fill="#1a1a1a" text-anchor="end" textLength="14.2" lengthAdjust="spacingAndGlyphs" stroke="#1a1a1a" stroke-width="0.3">C3</text>
<text x="303.30" y="433.10" font-size="11.34" fill="#333" text-anchor="middle" stroke="#333" stroke-width="0.3">0</text>
<text x="343.10" y="433.10" font-size="11.34" fill="#333" text-anchor="middle" stroke="#333" stroke-width="0.3">5</text>
<text x="383.00" y="433.10" font-size="11.34" fill="#333" text-anchor="middle" stroke="#333" stroke-width="0.3">10</text>
<text x="423.20" y="433.10" font-size="11.34" fill="#333" text-anchor="middle" stroke="#333" stroke-width="0.3">15</text>
<text x="463.20" y="433.10" font-size="11.34" fill="#333" text-anchor="middle" stroke="#333" stroke-width="0.3">20</text>
<text x="267.50" y="358.75" font-size="8.64" fill="#1a1a1a" textLength="30.6" lengthAdjust="spacingAndGlyphs" stroke="#1a1a1a" stroke-width="0.3" transform="rotate(-90 267.5 358.75)">Clusters</text>
<text x="337.80" y="452.40" font-size="16.20" fill="#1a1a1a" textLength="78.1" lengthAdjust="spacingAndGlyphs" stroke="#1a1a1a" stroke-width="0.3">Pseudotime</text>
<circle cx="336.25" cy="340.00" r="2.4" fill="#cc1414"/>
<circle cx="337.50" cy="343.12" r="2.4" fill="#cc1414"/>
<circle cx="343.12" cy="338.12" r="2.4" fill="#cc1414"/>
<circle cx="347.50" cy="339.38" r="2.4" fill="#cc1414"/>
<circle cx="345.62" cy="344.38" r="2.4" fill="#cc1414"/>
<circle cx="353.75" cy="334.38" r="2.4" fill="#cc1414"/>
<circle cx="357.50" cy="339.38" r="2.4" fill="#cc1414"/>
<circle cx="353.12" cy="342.50" r="2.4" fill="#cc1414"/>
<circle cx="355.62" cy="348.12" r="2.4" fill="#cc1414"/>
<circle cx="361.25" cy="332.50" r="2.4" fill="#cc1414"/>
<circle cx="365.00" cy="331.25" r="2.4" fill="#cc1414"/>
<circle cx="363.12" cy="335.62" r="2.4" fill="#cc1414"/>
<circle cx="363.75" cy="341.88" r="2.4" fill="#cc1414"/>
<circle cx="360.62" cy="345.62" r="2.4" fill="#cc1414"/>
<circle cx="362.50" cy="348.12" r="2.4" fill="#cc1414"/>
<circle cx="366.88" cy="349.38" r="2.4" fill="#cc1414"/>
<circle cx="370.00" cy="340.00" r="2.4" fill="#cc1414"/>
<circle cx="373.75" cy="343.12" r="2.4" fill="#cc1414"/>
<circle cx="375.00" cy="336.88" r="2.4" fill="#cc1414"/>
<circle cx="382.50" cy="332.50" r="2.4" fill="#cc1414"/>
<circle cx="381.88" cy="338.12" r="2.4" fill="#cc1414"/>
<circle cx="386.25" cy="340.00" r="2.4" fill="#cc1414"/>
<circle cx="387.50" cy="343.12" r="2.4" fill="#cc1414"/>
<circle cx="378.75" cy="345.62" r="2.4" fill="#cc1414"/>
<circle cx="385.62" cy="347.50" r="2.4" fill="#cc1414"/>
<circle cx="374.40" cy="336.90" r="2.4" fill="#cc1414"/>
<circle cx="382.50" cy="341.90" r="2.4" fill="#cc1414"/>
<circle cx="400.60" cy="339.40" r="2.4" fill="#cc1414"/>
<circle cx="365.60" cy="330.60" r="2.4" fill="#cc1414"/>
<circle cx="362.50" cy="335.00" r="2.4" fill="#cc1414"/>
<circle cx="363.75" cy="341.25" r="2.4" fill="#cc1414"/>
<circle cx="360.00" cy="345.60" r="2.4" fill="#cc1414"/>
<circle cx="366.90" cy="349.40" r="2.4" fill="#cc1414"/>
<circle cx="328.75" cy="361.25" r="2.4" fill="#f99e18"/>
<circle cx="323.75" cy="365.62" r="2.4" fill="#f99e18"/>
<circle cx="326.88" cy="367.50" r="2.4" fill="#f99e18"/>
<circle cx="331.25" cy="369.38" r="2.4" fill="#f99e18"/>
<circle cx="320.62" cy="370.62" r="2.4" fill="#f99e18"/>
<circle cx="322.50" cy="373.75" r="2.4" fill="#f99e18"/>
<circle cx="328.12" cy="373.12" r="2.4" fill="#f99e18"/>
<circle cx="334.38" cy="374.38" r="2.4" fill="#f99e18"/>
<circle cx="337.50" cy="371.25" r="2.4" fill="#f99e18"/>
<circle cx="336.25" cy="363.75" r="2.4" fill="#f99e18"/>
<circle cx="338.75" cy="363.12" r="2.4" fill="#f99e18"/>
<circle cx="324.38" cy="378.12" r="2.4" fill="#f99e18"/>
<circle cx="330.62" cy="381.25" r="2.4" fill="#f99e18"/>
<circle cx="335.62" cy="376.88" r="2.4" fill="#f99e18"/>
<circle cx="345.62" cy="374.38" r="2.4" fill="#f99e18"/>
<circle cx="350.00" cy="370.00" r="2.4" fill="#f99e18"/>
<circle cx="350.62" cy="372.50" r="2.4" fill="#f99e18"/>
<circle cx="358.75" cy="367.50" r="2.4" fill="#f99e18"/>
<circle cx="359.38" cy="373.12" r="2.4" fill="#f99e18"/>
<circle cx="366.25" cy="369.38" r="2.4" fill="#f99e18"/>
<circle cx="371.25" cy="371.25" r="2.4" fill="#f99e18"/>
<circle cx="378.12" cy="367.50" r="2.4" fill="#f99e18"/>
<circle cx="381.88" cy="373.12" r="2.4" fill="#f99e18"/>
<circle cx="388.75" cy="370.00" r="2.4" fill="#f99e18"/>
<circle cx="308.12" cy="391.88" r="2.4" fill="#7020cc"/>
<circle cx="304.38" cy="395.00" r="2.4" fill="#7020cc"/>
<circle cx="307.50" cy="398.12" r="2.4" fill="#7020cc"/>
<circle cx="302.50" cy="400.00" r="2.4" fill="#7020cc"/>
<circle cx="308.12" cy="403.12" r="2.4" fill="#7020cc"/>
<circle cx="302.50" cy="405.00" r="2.4" fill="#7020cc"/>
<circle cx="306.88" cy="409.38" r="2.4" fill="#7020cc"/>
<circle cx="312.50" cy="408.12" r="2.4" fill="#7020cc"/>
<circle cx="314.38" cy="399.38" r="2.4" fill="#7020cc"/>
<circle cx="317.50" cy="394.38" r="2.4" fill="#7020cc"/>
<circle cx="321.25" cy="398.12" r="2.4" fill="#7020cc"/>
<circle cx="321.88" cy="401.88" r="2.4" fill="#7020cc"/>
<circle cx="316.25" cy="404.38" r="2.4" fill="#7020cc"/>
<circle cx="318.12" cy="406.88" r="2.4" fill="#7020cc"/>
<circle cx="326.25" cy="396.88" r="2.4" fill="#7020cc"/>
<circle cx="330.62" cy="403.12" r="2.4" fill="#7020cc"/>
<circle cx="350.00" cy="400.00" r="2.4" fill="#7020cc"/>
<circle cx="355.00" cy="401.88" r="2.4" fill="#7020cc"/>
<circle cx="399.70" cy="399.70" r="2.4" fill="#7020cc"/>
<circle cx="446.25" cy="272.50" r="2.4" fill="#1212c0"/>
<circle cx="451.88" cy="273.12" r="2.4" fill="#1212c0"/>
<circle cx="456.88" cy="275.00" r="2.4" fill="#1212c0"/>
<circle cx="453.75" cy="276.25" r="2.4" fill="#1212c0"/>
<circle cx="437.50" cy="276.88" r="2.4" fill="#1212c0"/>
<circle cx="443.12" cy="278.12" r="2.4" fill="#1212c0"/>
<circle cx="448.75" cy="278.75" r="2.4" fill="#1212c0"/>
<circle cx="430.00" cy="280.00" r="2.4" fill="#1212c0"/>
<circle cx="445.00" cy="281.88" r="2.4" fill="#1212c0"/>
<circle cx="455.00" cy="281.88" r="2.4" fill="#1212c0"/>
<circle cx="436.88" cy="283.75" r="2.4" fill="#1212c0"/>
<circle cx="441.25" cy="285.62" r="2.4" fill="#1212c0"/>
<circle cx="448.75" cy="285.00" r="2.4" fill="#1212c0"/>
<circle cx="453.12" cy="287.50" r="2.4" fill="#1212c0"/>
<circle cx="448.12" cy="290.62" r="2.4" fill="#1212c0"/>
<circle cx="407.50" cy="303.12" r="2.4" fill="#26c826"/>
<circle cx="415.00" cy="302.50" r="2.4" fill="#26c826"/>
<circle cx="418.75" cy="301.25" r="2.4" fill="#26c826"/>
<circle cx="400.00" cy="306.88" r="2.4" fill="#26c826"/>
<circle cx="402.50" cy="308.75" r="2.4" fill="#26c826"/>
<circle cx="410.00" cy="308.75" r="2.4" fill="#26c826"/>
<circle cx="415.62" cy="306.25" r="2.4" fill="#26c826"/>
<circle cx="393.75" cy="311.88" r="2.4" fill="#26c826"/>
<circle cx="406.25" cy="312.50" r="2.4" fill="#26c826"/>
<circle cx="411.25" cy="314.38" r="2.4" fill="#26c826"/>
<circle cx="416.88" cy="311.88" r="2.4" fill="#26c826"/>
<circle cx="423.12" cy="309.38" r="2.4" fill="#26c826"/>
<circle cx="428.12" cy="306.25" r="2.4" fill="#26c826"/>
<circle cx="432.50" cy="308.75" r="2.4" fill="#26c826"/>
<circle cx="436.88" cy="310.62" r="2.4" fill="#26c826"/>
<circle cx="425.00" cy="313.12" r="2.4" fill="#26c826"/>
<circle cx="428.12" cy="315.62" r="2.4" fill="#26c826"/>
<circle cx="400.62" cy="315.62" r="2.4" fill="#26c826"/>
<circle cx="415.00" cy="317.50" r="2.4" fill="#26c826"/>
<circle cx="420.00" cy="318.75" r="2.4" fill="#26c826"/>
<circle cx="410.00" cy="319.38" r="2.4" fill="#26c826"/>
<circle cx="363.75" cy="310.00" r="2.4" fill="#26c826"/>
<text x="445.00" y="315.60" font-size="12.96" fill="#1a1a1a" textLength="78.75" lengthAdjust="spacingAndGlyphs" stroke="#1a1a1a" stroke-width="0.3">Seurat clusters</text>
<circle cx="476.90" cy="327.75" r="5.1" fill="#cc1010"/>
<text x="485.60" y="332.45" font-size="14.04" fill="#1a1a1a" textLength="16.3" lengthAdjust="spacingAndGlyphs" stroke="#1a1a1a" stroke-width="0.3">C0</text>
<circle cx="476.90" cy="344.60" r="5.1" fill="#fb9012"/>
<text x="485.60" y="349.30" font-size="14.04" fill="#1a1a1a" textLength="16.3" lengthAdjust="spacingAndGlyphs" stroke="#1a1a1a" stroke-width="0.3">C1</text>
<circle cx="476.90" cy="361.50" r="5.1" fill="#22cc22"/>
<text x="485.60" y="366.20" font-size="14.04" fill="#1a1a1a" textLength="16.3" lengthAdjust="spacingAndGlyphs" stroke="#1a1a1a" stroke-width="0.3">C2</text>
<circle cx="476.90" cy="378.40" r="5.1" fill="#6e14cc"/>
<text x="485.60" y="383.10" font-size="14.04" fill="#1a1a1a" textLength="16.3" lengthAdjust="spacingAndGlyphs" stroke="#1a1a1a" stroke-width="0.3">C3</text>
<circle cx="476.90" cy="395.30" r="5.1" fill="#0c0cc4"/>
<text x="485.60" y="400.00" font-size="14.04" fill="#1a1a1a" textLength="16.3" lengthAdjust="spacingAndGlyphs" stroke="#1a1a1a" stroke-width="0.3">C4</text>
<line x1="556.6" y1="266.9" x2="556.6" y2="415" stroke="#8c8c8c" stroke-width="1.45"/>
<line x1="556.6" y1="415" x2="716.5" y2="415" stroke="#8c8c8c" stroke-width="1.45"/>
<line x1="554.6" y1="294.4" x2="556.6" y2="294.4" stroke="#8c8c8c" stroke-width="1"/>
<line x1="554.6" y1="341.25" x2="556.6" y2="341.25" stroke="#8c8c8c" stroke-width="1"/>
<line x1="554.6" y1="387.25" x2="556.6" y2="387.25" stroke="#8c8c8c" stroke-width="1"/>
<line x1="564.4" y1="415" x2="564.4" y2="417" stroke="#8c8c8c" stroke-width="1"/>
<line x1="601.75" y1="415" x2="601.75" y2="417" stroke="#8c8c8c" stroke-width="1"/>
<line x1="640.75" y1="415" x2="640.75" y2="417" stroke="#8c8c8c" stroke-width="1"/>
<line x1="679.1" y1="415" x2="679.1" y2="417" stroke="#8c8c8c" stroke-width="1"/>
<line x1="717.1" y1="415" x2="717.1" y2="417" stroke="#8c8c8c" stroke-width="1"/>
<text x="553.75" y="294.60" font-size="11.88" fill="#1a1a1a" text-anchor="end" stroke="#1a1a1a" stroke-width="0.3">pt2</text>
<text x="553.75" y="341.45" font-size="11.88" fill="#1a1a1a" text-anchor="end" stroke="#1a1a1a" stroke-width="0.3">pt1</text>
<text x="553.75" y="387.45" font-size="11.88" fill="#1a1a1a" text-anchor="end" stroke="#1a1a1a" stroke-width="0.3">pt0</text>
<text x="564.40" y="433.20" font-size="11.34" fill="#333" text-anchor="middle" stroke="#333" stroke-width="0.3">0</text>
<text x="601.75" y="433.20" font-size="11.34" fill="#333" text-anchor="middle" stroke="#333" stroke-width="0.3">5</text>
<text x="640.75" y="433.20" font-size="11.34" fill="#333" text-anchor="middle" stroke="#333" stroke-width="0.3">10</text>
<text x="679.10" y="433.20" font-size="11.34" fill="#333" text-anchor="middle" stroke="#333" stroke-width="0.3">15</text>
<text x="717.10" y="433.20" font-size="11.34" fill="#333" text-anchor="middle" stroke="#333" stroke-width="0.3">20</text>
<text x="534.40" y="382.00" font-size="8.64" fill="#1a1a1a" textLength="76" lengthAdjust="spacingAndGlyphs" stroke="#1a1a1a" stroke-width="0.3" transform="rotate(-90 534.4 382)">Pseudotime clusters</text>
<text x="597.80" y="451.85" font-size="16.20" fill="#1a1a1a" textLength="78.7" lengthAdjust="spacingAndGlyphs" stroke="#1a1a1a" stroke-width="0.3">Pseudotime</text>
<circle cx="581.88" cy="371.88" r="2.4" fill="#18b4ee"/>
<circle cx="590.62" cy="373.12" r="2.4" fill="#18b4ee"/>
<circle cx="569.38" cy="377.50" r="2.4" fill="#18b4ee"/>
<circle cx="577.50" cy="377.50" r="2.4" fill="#18b4ee"/>
<circle cx="586.25" cy="376.88" r="2.4" fill="#18b4ee"/>
<circle cx="595.00" cy="376.88" r="2.4" fill="#18b4ee"/>
<circle cx="598.12" cy="377.50" r="2.4" fill="#18b4ee"/>
<circle cx="566.25" cy="381.88" r="2.4" fill="#18b4ee"/>
<circle cx="580.00" cy="381.25" r="2.4" fill="#18b4ee"/>
<circle cx="588.12" cy="381.25" r="2.4" fill="#18b4ee"/>
<circle cx="595.00" cy="381.25" r="2.4" fill="#18b4ee"/>
<circle cx="567.50" cy="383.75" r="2.4" fill="#18b4ee"/>
<circle cx="589.38" cy="383.75" r="2.4" fill="#18b4ee"/>
<circle cx="563.12" cy="386.88" r="2.4" fill="#18b4ee"/>
<circle cx="575.00" cy="385.62" r="2.4" fill="#18b4ee"/>
<circle cx="583.75" cy="386.25" r="2.4" fill="#18b4ee"/>
<circle cx="596.88" cy="387.50" r="2.4" fill="#18b4ee"/>
<circle cx="563.75" cy="390.62" r="2.4" fill="#18b4ee"/>
<circle cx="568.75" cy="390.62" r="2.4" fill="#18b4ee"/>
<circle cx="581.25" cy="389.38" r="2.4" fill="#18b4ee"/>
<circle cx="588.12" cy="390.62" r="2.4" fill="#18b4ee"/>
<circle cx="576.25" cy="392.50" r="2.4" fill="#18b4ee"/>
<circle cx="593.12" cy="392.50" r="2.4" fill="#18b4ee"/>
<circle cx="568.12" cy="396.25" r="2.4" fill="#18b4ee"/>
<circle cx="577.50" cy="396.88" r="2.4" fill="#18b4ee"/>
<circle cx="584.38" cy="395.00" r="2.4" fill="#18b4ee"/>
<circle cx="595.00" cy="395.00" r="2.4" fill="#18b4ee"/>
<circle cx="573.12" cy="398.12" r="2.4" fill="#18b4ee"/>
<circle cx="586.25" cy="400.00" r="2.4" fill="#18b4ee"/>
<circle cx="590.62" cy="401.25" r="2.4" fill="#18b4ee"/>
<circle cx="581.88" cy="403.75" r="2.4" fill="#18b4ee"/>
<circle cx="607.50" cy="386.88" r="2.4" fill="#18b4ee"/>
<circle cx="608.12" cy="390.00" r="2.4" fill="#18b4ee"/>
<circle cx="605.00" cy="393.12" r="2.4" fill="#18b4ee"/>
<circle cx="613.75" cy="383.75" r="2.4" fill="#18b4ee"/>
<circle cx="617.50" cy="385.62" r="2.4" fill="#18b4ee"/>
<circle cx="616.88" cy="391.25" r="2.4" fill="#18b4ee"/>
<circle cx="623.75" cy="387.50" r="2.4" fill="#18b4ee"/>
<circle cx="635.00" cy="385.62" r="2.4" fill="#18b4ee"/>
<circle cx="645.00" cy="388.75" r="2.4" fill="#18b4ee"/>
<circle cx="656.25" cy="383.12" r="2.4" fill="#18b4ee"/>
<circle cx="655.62" cy="386.88" r="2.4" fill="#18b4ee"/>
<circle cx="658.12" cy="390.62" r="2.4" fill="#18b4ee"/>
<circle cx="621.88" cy="325.00" r="2.4" fill="#f28c1e"/>
<circle cx="611.25" cy="330.62" r="2.4" fill="#f28c1e"/>
<circle cx="618.12" cy="330.00" r="2.4" fill="#f28c1e"/>
<circle cx="620.00" cy="333.75" r="2.4" fill="#f28c1e"/>
<circle cx="638.12" cy="326.25" r="2.4" fill="#f28c1e"/>
<circle cx="642.50" cy="330.62" r="2.4" fill="#f28c1e"/>
<circle cx="628.75" cy="333.12" r="2.4" fill="#f28c1e"/>
<circle cx="631.88" cy="336.88" r="2.4" fill="#f28c1e"/>
<circle cx="643.75" cy="335.62" r="2.4" fill="#f28c1e"/>
<circle cx="638.75" cy="337.50" r="2.4" fill="#f28c1e"/>
<circle cx="601.88" cy="336.88" r="2.4" fill="#f28c1e"/>
<circle cx="606.25" cy="338.12" r="2.4" fill="#f28c1e"/>
<circle cx="614.38" cy="339.38" r="2.4" fill="#f28c1e"/>
<circle cx="623.75" cy="340.00" r="2.4" fill="#f28c1e"/>
<circle cx="595.00" cy="340.62" r="2.4" fill="#f28c1e"/>
<circle cx="596.88" cy="343.75" r="2.4" fill="#f28c1e"/>
<circle cx="609.38" cy="343.75" r="2.4" fill="#f28c1e"/>
<circle cx="621.25" cy="343.12" r="2.4" fill="#f28c1e"/>
<circle cx="635.62" cy="343.12" r="2.4" fill="#f28c1e"/>
<circle cx="638.75" cy="346.25" r="2.4" fill="#f28c1e"/>
<circle cx="642.50" cy="348.75" r="2.4" fill="#f28c1e"/>
<circle cx="627.50" cy="346.25" r="2.4" fill="#f28c1e"/>
<circle cx="630.00" cy="349.38" r="2.4" fill="#f28c1e"/>
<circle cx="604.38" cy="347.50" r="2.4" fill="#f28c1e"/>
<circle cx="615.62" cy="346.88" r="2.4" fill="#f28c1e"/>
<circle cx="611.88" cy="353.12" r="2.4" fill="#f28c1e"/>
<circle cx="619.38" cy="351.88" r="2.4" fill="#f28c1e"/>
<circle cx="623.12" cy="356.88" r="2.4" fill="#f28c1e"/>
<circle cx="638.75" cy="355.00" r="2.4" fill="#f28c1e"/>
<circle cx="656.25" cy="341.25" r="2.4" fill="#f28c1e"/>
<circle cx="666.25" cy="282.50" r="2.4" fill="#ec68b2"/>
<circle cx="672.25" cy="283.75" r="2.4" fill="#ec68b2"/>
<circle cx="679.75" cy="282.50" r="2.4" fill="#ec68b2"/>
<circle cx="694.38" cy="282.50" r="2.4" fill="#ec68b2"/>
<circle cx="701.88" cy="281.88" r="2.4" fill="#ec68b2"/>
<circle cx="706.25" cy="278.75" r="2.4" fill="#ec68b2"/>
<circle cx="702.25" cy="286.25" r="2.4" fill="#ec68b2"/>
<circle cx="661.88" cy="289.38" r="2.4" fill="#ec68b2"/>
<circle cx="665.00" cy="290.62" r="2.4" fill="#ec68b2"/>
<circle cx="675.00" cy="288.75" r="2.4" fill="#ec68b2"/>
<circle cx="670.62" cy="292.50" r="2.4" fill="#ec68b2"/>
<circle cx="686.25" cy="286.88" r="2.4" fill="#ec68b2"/>
<circle cx="691.25" cy="290.00" r="2.4" fill="#ec68b2"/>
<circle cx="698.12" cy="291.25" r="2.4" fill="#ec68b2"/>
<circle cx="649.38" cy="296.25" r="2.4" fill="#ec68b2"/>
<circle cx="665.62" cy="298.12" r="2.4" fill="#ec68b2"/>
<circle cx="678.12" cy="296.25" r="2.4" fill="#ec68b2"/>
<circle cx="682.50" cy="293.75" r="2.4" fill="#ec68b2"/>
<circle cx="691.25" cy="296.88" r="2.4" fill="#ec68b2"/>
<circle cx="705.62" cy="295.62" r="2.4" fill="#ec68b2"/>
<circle cx="708.12" cy="294.38" r="2.4" fill="#ec68b2"/>
<circle cx="710.00" cy="300.00" r="2.4" fill="#ec68b2"/>
<circle cx="700.00" cy="300.00" r="2.4" fill="#ec68b2"/>
<circle cx="684.38" cy="300.62" r="2.4" fill="#ec68b2"/>
<circle cx="670.00" cy="300.62" r="2.4" fill="#ec68b2"/>
<circle cx="663.12" cy="303.75" r="2.4" fill="#ec68b2"/>
<circle cx="673.75" cy="305.00" r="2.4" fill="#ec68b2"/>
<circle cx="682.50" cy="307.50" r="2.4" fill="#ec68b2"/>
<circle cx="690.62" cy="303.75" r="2.4" fill="#ec68b2"/>
<circle cx="696.25" cy="307.50" r="2.4" fill="#ec68b2"/>
<circle cx="701.88" cy="305.00" r="2.4" fill="#ec68b2"/>
<circle cx="670.00" cy="310.62" r="2.4" fill="#ec68b2"/>
<circle cx="706.88" cy="310.00" r="2.4" fill="#ec68b2"/>
<circle cx="621.00" cy="294.50" r="2.4" fill="#ec68b2"/>
<text x="698.50" y="329.50" font-size="11.88" fill="#1a1a1a" textLength="101" lengthAdjust="spacingAndGlyphs" stroke="#1a1a1a" stroke-width="0.3">Pseudotime clusters</text>
<circle cx="740.20" cy="345.40" r="5.5" fill="#10b8f2"/>
<text x="747.80" y="348.40" font-size="13.50" fill="#1a1a1a" textLength="17.6" lengthAdjust="spacingAndGlyphs" stroke="#1a1a1a" stroke-width="0.3">pt0</text>
<circle cx="740.20" cy="369.90" r="5.5" fill="#f88410"/>
<text x="747.80" y="372.90" font-size="13.50" fill="#1a1a1a" textLength="17.6" lengthAdjust="spacingAndGlyphs" stroke="#1a1a1a" stroke-width="0.3">pt1</text>
<circle cx="740.20" cy="394.90" r="5.5" fill="#f060b0"/>
<text x="747.80" y="397.90" font-size="13.50" fill="#1a1a1a" textLength="17.6" lengthAdjust="spacingAndGlyphs" stroke="#1a1a1a" stroke-width="0.3">pt2</text>
<text x="55.60" y="488.50" font-size="17.28" fill="#1a1a1a" stroke="#1a1a1a" stroke-width="0.3">C</text>
<text x="80.60" y="552.60" font-size="14.36" fill="#1a1a1a" textLength="66.3" lengthAdjust="spacingAndGlyphs" stroke="#1a1a1a" stroke-width="0.3">Pseudotime</text>
<rect x="63.4" y="560.1" width="105.6" height="12" fill="url(#gpt2)"/>
<text x="64.00" y="583.50" font-size="10.80" fill="#1a1a1a" stroke="#1a1a1a" stroke-width="0.3">0</text>
<text x="169.00" y="583.50" font-size="10.80" fill="#1a1a1a" text-anchor="end" stroke="#1a1a1a" stroke-width="0.3">20</text>
<text x="55.25" y="633.30" font-size="13.77" fill="#1a1a1a" textLength="111.75" lengthAdjust="spacingAndGlyphs" stroke="#1a1a1a" stroke-width="0.3">Pseudotime clusters</text>
<circle cx="85.10" cy="665.75" r="5.6" fill="#10b8f2"/>
<text x="77.40" y="656.00" font-size="11.56" fill="#1a1a1a" textLength="17.5" lengthAdjust="spacingAndGlyphs" stroke="#1a1a1a" stroke-width="0.3">pt0</text>
<circle cx="109.80" cy="665.75" r="5.6" fill="#f88410"/>
<text x="103.70" y="656.00" font-size="11.56" fill="#1a1a1a" textLength="17.5" lengthAdjust="spacingAndGlyphs" stroke="#1a1a1a" stroke-width="0.3">pt1</text>
<circle cx="134.60" cy="665.75" r="5.6" fill="#f060b0"/>
<text x="128.75" y="656.00" font-size="11.56" fill="#1a1a1a" textLength="17.5" lengthAdjust="spacingAndGlyphs" stroke="#1a1a1a" stroke-width="0.3">pt2</text>
<line x1="198.5" y1="519" x2="198.5" y2="740" stroke="#221616" stroke-width="1.1"/>
<path d="M198.5,511.5 L209,521.5 L198.5,519 L188.5,521.5 Z" fill="#221616"/>
<rect x="211" y="510.5" width="10.8" height="230" fill="url(#gpc)"/>
<rect x="222.7" y="510.5" width="10.3" height="67.50" fill="#ff5aa8"/>
<rect x="222.7" y="578" width="10.3" height="1.00" fill="#f98a00"/>
<rect x="222.7" y="579" width="10.3" height="4.00" fill="#12b8f0"/>
<rect x="222.7" y="583" width="10.3" height="1.50" fill="#f98a00"/>
<rect x="222.7" y="584.5" width="10.3" height="5.50" fill="#12b8f0"/>
<rect x="222.7" y="590" width="10.3" height="2.00" fill="#ff5aa8"/>
<rect x="222.7" y="592" width="10.3" height="2.00" fill="#12b8f0"/>
<rect x="222.7" y="594" width="10.3" height="17.00" fill="#f98a00"/>
<rect x="222.7" y="611" width="10.3" height="3.00" fill="#12b8f0"/>
<rect x="222.7" y="614" width="10.3" height="10.00" fill="#f98a00"/>
<rect x="222.7" y="624" width="10.3" height="2.00" fill="#12b8f0"/>
<rect x="222.7" y="626" width="10.3" height="2.00" fill="#f98a00"/>
<rect x="222.7" y="628" width="10.3" height="2.00" fill="#ff5aa8"/>
<rect x="222.7" y="630" width="10.3" height="11.00" fill="#f98a00"/>
<rect x="222.7" y="641" width="10.3" height="5.00" fill="#12b8f0"/>
<rect x="222.7" y="646" width="10.3" height="3.00" fill="#f98a00"/>
<rect x="222.7" y="649" width="10.3" height="3.00" fill="#12b8f0"/>
<rect x="222.7" y="652" width="10.3" height="5.00" fill="#f98a00"/>
<rect x="222.7" y="657" width="10.3" height="6.00" fill="#12b8f0"/>
<rect x="222.7" y="663" width="10.3" height="5.00" fill="#f98a00"/>
<rect x="222.7" y="668" width="10.3" height="5.00" fill="#12b8f0"/>
<rect x="222.7" y="673" width="10.3" height="3.00" fill="#f98a00"/>
<rect x="222.7" y="676" width="10.3" height="2.00" fill="#12b8f0"/>
<rect x="222.7" y="678" width="10.3" height="3.00" fill="#f98a00"/>
<rect x="222.7" y="681" width="10.3" height="60.50" fill="#12b8f0"/>
<g filter="url(#hblur)">
<rect x="234" y="510.5" width="4.30" height="77.20" fill="#fdf8d8"/>
<rect x="238" y="510.5" width="22.30" height="77.20" fill="#fff9c6"/>
<rect x="260" y="510.5" width="4.30" height="77.20" fill="#fce8b0"/>
<rect x="264" y="510.5" width="4.30" height="77.20" fill="#fff6c4"/>
<rect x="268" y="510.5" width="7.30" height="77.20" fill="#fbd898"/>
<rect x="275" y="510.5" width="8.30" height="77.20" fill="#fff4c0"/>
<rect x="283" y="510.5" width="5.30" height="77.20" fill="#f26a10"/>
<rect x="288" y="510.5" width="1.80" height="77.20" fill="#e84800"/>
<rect x="289.5" y="510.5" width="3.80" height="77.20" fill="#f88c10"/>
<rect x="293" y="510.5" width="4.30" height="77.20" fill="#f59e10"/>
<rect x="297" y="510.5" width="6.30" height="77.20" fill="#f8c060"/>
<rect x="303" y="510.5" width="4.30" height="77.20" fill="#fad898"/>
<rect x="307" y="510.5" width="4.30" height="77.20" fill="#f8b850"/>
<rect x="311" y="510.5" width="2.30" height="77.20" fill="#e85000"/>
<rect x="313" y="510.5" width="3.30" height="77.20" fill="#f58a10"/>
<rect x="316" y="510.5" width="2.30" height="77.20" fill="#ee6a00"/>
<rect x="318" y="510.5" width="2.30" height="77.20" fill="#f08010"/>
<rect x="320" y="510.5" width="9.30" height="77.20" fill="#f5a000"/>
<rect x="329" y="510.5" width="4.30" height="77.20" fill="#fff0c0"/>
<rect x="333" y="510.5" width="3.30" height="77.20" fill="#fff8c8"/>
<rect x="336" y="510.5" width="3.30" height="77.20" fill="#fff3b0"/>
<rect x="339" y="510.5" width="6.30" height="77.20" fill="#fde0a0"/>
<rect x="345" y="510.5" width="4.30" height="77.20" fill="#fad88f"/>
<rect x="349" y="510.5" width="4.30" height="77.20" fill="#fde4a8"/>
<rect x="353" y="510.5" width="9.30" height="77.20" fill="#fbdc98"/>
<rect x="362" y="510.5" width="4.30" height="77.20" fill="#f8c060"/>
<rect x="366" y="510.5" width="6.80" height="77.20" fill="#f9c868"/>
<rect x="372.5" y="510.5" width="2.80" height="77.20" fill="#8a1020"/>
<rect x="375" y="510.5" width="2.30" height="77.20" fill="#a01515"/>
<rect x="377" y="510.5" width="4.30" height="77.20" fill="#b01a0a"/>
<rect x="381" y="510.5" width="2.30" height="77.20" fill="#8a1020"/>
<rect x="383" y="510.5" width="19.30" height="77.20" fill="#7e1024"/>
<rect x="402" y="510.5" width="3.30" height="77.20" fill="#a01818"/>
<rect x="405" y="510.5" width="4.30" height="77.20" fill="#901520"/>
<rect x="409" y="510.5" width="9.30" height="77.20" fill="#b01808"/>
<rect x="418" y="510.5" width="2.30" height="77.20" fill="#b82010"/>
<rect x="420" y="510.5" width="82.00" height="77.20" fill="#7e1024"/>
<rect x="234" y="587.5" width="6.30" height="76.50" fill="#b41410"/>
<rect x="240" y="587.5" width="3.30" height="76.50" fill="#c82010"/>
<rect x="243" y="587.5" width="6.30" height="76.50" fill="#dc3408"/>
<rect x="249" y="587.5" width="6.30" height="76.50" fill="#f07810"/>
<rect x="255" y="587.5" width="5.30" height="76.50" fill="#e86000"/>
<rect x="260" y="587.5" width="3.30" height="76.50" fill="#f8b050"/>
<rect x="263" y="587.5" width="5.30" height="76.50" fill="#f8c878"/>
<rect x="268" y="587.5" width="6.30" height="76.50" fill="#f8c070"/>
<rect x="274" y="587.5" width="3.30" height="76.50" fill="#f5a020"/>
<rect x="277" y="587.5" width="6.30" height="76.50" fill="#f5a000"/>
<rect x="283" y="587.5" width="3.30" height="76.50" fill="#fff5c0"/>
<rect x="286" y="587.5" width="10.30" height="76.50" fill="#fff8c8"/>
<rect x="296" y="587.5" width="8.30" height="76.50" fill="#fde8b0"/>
<rect x="304" y="587.5" width="7.30" height="76.50" fill="#fad890"/>
<rect x="311" y="587.5" width="2.30" height="76.50" fill="#c02010"/>
<rect x="313" y="587.5" width="3.30" height="76.50" fill="#b01810"/>
<rect x="316" y="587.5" width="5.30" height="76.50" fill="#8a1020"/>
<rect x="321" y="587.5" width="51.80" height="76.50" fill="#7e1024"/>
<rect x="372.5" y="587.5" width="20.80" height="76.50" fill="#fffac8"/>
<rect x="393" y="587.5" width="6.30" height="76.50" fill="#f8e0a8"/>
<rect x="399" y="587.5" width="6.30" height="76.50" fill="#fff5c0"/>
<rect x="405" y="587.5" width="5.30" height="76.50" fill="#f09010"/>
<rect x="410" y="587.5" width="4.30" height="76.50" fill="#f07000"/>
<rect x="414" y="587.5" width="5.30" height="76.50" fill="#f06000"/>
<rect x="419" y="587.5" width="5.30" height="76.50" fill="#f8b850"/>
<rect x="424" y="587.5" width="4.30" height="76.50" fill="#f8c878"/>
<rect x="428" y="587.5" width="13.30" height="76.50" fill="#f8b848"/>
<rect x="441" y="587.5" width="13.30" height="76.50" fill="#f5a000"/>
<rect x="454" y="587.5" width="16.30" height="76.50" fill="#fde3a0"/>
<rect x="470" y="587.5" width="14.30" height="76.50" fill="#fad888"/>
<rect x="484" y="587.5" width="6.30" height="76.50" fill="#fde4a0"/>
<rect x="490" y="587.5" width="12.00" height="76.50" fill="#fad480"/>
<rect x="234" y="663.8" width="6.30" height="76.90" fill="#f58010"/>
<rect x="240" y="663.8" width="2.30" height="76.90" fill="#e85000"/>
<rect x="242" y="663.8" width="3.30" height="76.90" fill="#e04000"/>
<rect x="245" y="663.8" width="4.30" height="76.90" fill="#c82008"/>
<rect x="249" y="663.8" width="11.30" height="76.90" fill="#b81808"/>
<rect x="260" y="663.8" width="1.30" height="76.90" fill="#d02810"/>
<rect x="261" y="663.8" width="22.30" height="76.90" fill="#7e1024"/>
<rect x="283" y="663.8" width="4.30" height="76.90" fill="#b81808"/>
<rect x="287" y="663.8" width="2.30" height="76.90" fill="#c82010"/>
<rect x="289" y="663.8" width="22.30" height="76.90" fill="#7e1024"/>
<rect x="311" y="663.8" width="9.30" height="76.90" fill="#fffac8"/>
<rect x="320" y="663.8" width="9.30" height="76.90" fill="#fff5c0"/>
<rect x="329" y="663.8" width="4.30" height="76.90" fill="#f8c050"/>
<rect x="333" y="663.8" width="4.30" height="76.90" fill="#f5a010"/>
<rect x="337" y="663.8" width="3.30" height="76.90" fill="#f8c060"/>
<rect x="340" y="663.8" width="2.30" height="76.90" fill="#f0a000"/>
<rect x="342" y="663.8" width="3.30" height="76.90" fill="#fcd890"/>
<rect x="345" y="663.8" width="5.30" height="76.90" fill="#fde8b0"/>
<rect x="350" y="663.8" width="5.30" height="76.90" fill="#fcd888"/>
<rect x="355" y="663.8" width="3.30" height="76.90" fill="#f8c868"/>
<rect x="358" y="663.8" width="4.30" height="76.90" fill="#fce0a0"/>
<rect x="362" y="663.8" width="10.80" height="76.90" fill="#fff5c0"/>
<rect x="372.5" y="663.8" width="3.80" height="76.90" fill="#f58010"/>
<rect x="376" y="663.8" width="2.30" height="76.90" fill="#f07000"/>
<rect x="378" y="663.8" width="2.30" height="76.90" fill="#e86000"/>
<rect x="380" y="663.8" width="4.30" height="76.90" fill="#f59010"/>
<rect x="384" y="663.8" width="8.30" height="76.90" fill="#f5a000"/>
<rect x="392" y="663.8" width="3.30" height="76.90" fill="#f8b848"/>
<rect x="395" y="663.8" width="2.30" height="76.90" fill="#fcd080"/>
<rect x="397" y="663.8" width="2.30" height="76.90" fill="#f8b030"/>
<rect x="399" y="663.8" width="5.30" height="76.90" fill="#f8b848"/>
<rect x="404" y="663.8" width="15.30" height="76.90" fill="#fffac8"/>
<rect x="419" y="663.8" width="3.30" height="76.90" fill="#fde8a8"/>
<rect x="422" y="663.8" width="3.30" height="76.90" fill="#fff8c8"/>
<rect x="425" y="663.8" width="7.30" height="76.90" fill="#fde8a8"/>
<rect x="432" y="663.8" width="16.30" height="76.90" fill="#fff4c0"/>
<rect x="448" y="663.8" width="6.30" height="76.90" fill="#fffad0"/>
<rect x="454" y="663.8" width="16.30" height="76.90" fill="#fad888"/>
<rect x="470" y="663.8" width="17.30" height="76.90" fill="#fce4a0"/>
<rect x="487" y="663.8" width="3.30" height="76.90" fill="#fad888"/>
<rect x="490" y="663.8" width="12.00" height="76.90" fill="#fde0a0"/>
</g>
<text x="587.20" y="496.60" font-size="12.96" fill="#111" textLength="51.6" lengthAdjust="spacingAndGlyphs" font-weight="bold" stroke="#111" stroke-width="0.3">GO terms</text>
<line x1="524.4" y1="505.6" x2="710.75" y2="505.6" stroke="#111" stroke-width="2.3"/>
<text x="511.60" y="547.70" font-size="13.50" fill="#1a1a1a" textLength="270" lengthAdjust="spacingAndGlyphs" stroke="#1a1a1a" stroke-width="0.3" xml:space="preserve">Entry into host,Invasion, response to abiotic stimulus</text>
<text x="511.60" y="563.50" font-size="13.50" fill="#1a1a1a" textLength="123.4" lengthAdjust="spacingAndGlyphs" stroke="#1a1a1a" stroke-width="0.3" xml:space="preserve">CTRP-CelTOS-CPN10</text>
<text x="511.60" y="622.00" font-size="13.50" fill="#1a1a1a" textLength="194.25" lengthAdjust="spacingAndGlyphs" stroke="#1a1a1a" stroke-width="0.3" xml:space="preserve">DNA replication, Signaling,Translation</text>
<text x="511.60" y="638.00" font-size="13.50" fill="#1a1a1a" textLength="103.1" lengthAdjust="spacingAndGlyphs" stroke="#1a1a1a" stroke-width="0.3" xml:space="preserve">MCM3 -DCX - AsnRS</text>
<text x="511.60" y="696.70" font-size="13.50" fill="#1a1a1a" textLength="254.25" lengthAdjust="spacingAndGlyphs" stroke="#1a1a1a" stroke-width="0.3" xml:space="preserve">Response to stimulus,  Localization, Reproduction</text>
<text x="511.60" y="712.00" font-size="13.50" fill="#1a1a1a" textLength="98" lengthAdjust="spacingAndGlyphs" stroke="#1a1a1a" stroke-width="0.3" xml:space="preserve">APE1-ADF1- DMC1</text>
<text x="216.00" y="773.00" font-size="14.04" fill="#1a1a1a" textLength="109.6" lengthAdjust="spacingAndGlyphs" stroke="#1a1a1a" stroke-width="0.3">Expression level</text>
<rect x="226" y="782.25" width="81.5" height="10.85" fill="url(#gexp)"/>
<text x="207.00" y="806.60" font-size="12.42" fill="#1a1a1a" textLength="26" lengthAdjust="spacingAndGlyphs" stroke="#1a1a1a" stroke-width="0.3">High</text>
<text x="303.60" y="806.60" font-size="12.42" fill="#1a1a1a" textLength="23.4" lengthAdjust="spacingAndGlyphs" stroke="#1a1a1a" stroke-width="0.3">Low</text>
</svg></body></html>
